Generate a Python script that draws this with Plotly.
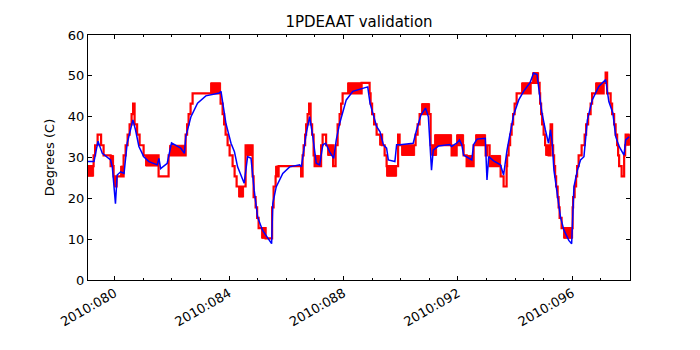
import plotly.graph_objects as go

# ---- data (day-of-year 2010, degrees C) ----
model_t = [79.06, 79.28, 79.42, 79.57, 79.86, 79.92, 80.03, 80.09, 80.21, 80.33,
           80.44, 80.64, 80.73, 80.85, 81.02, 81.20, 81.49, 81.55, 81.61, 81.84,
           81.99, 82.13, 82.31, 82.44, 82.49, 82.67, 82.90, 83.19, 83.66, 83.72,
           83.89, 84.07, 84.19, 84.30, 84.53, 84.65, 84.77, 84.88, 85.00, 85.17,
           85.49, 85.53, 85.65, 85.88, 86.12, 86.47, 86.53, 86.70, 86.82, 86.93,
           87.05, 87.17, 87.28, 87.38, 87.52, 87.66, 87.75, 87.87, 88.10, 88.33,
           88.74, 88.85, 88.93, 89.05, 89.16, 89.28, 89.40, 89.51, 89.57, 89.80,
           89.86, 89.98, 90.44, 90.56, 90.71, 90.87, 90.97, 91.08, 91.14, 91.32,
           91.72, 91.78, 91.96, 92.06, 92.14, 92.20, 92.38, 92.49, 92.55, 92.67,
           92.96, 93.02, 93.08, 93.25, 93.49, 93.60, 93.72, 93.84, 93.95, 94.13,
           94.30, 94.53, 94.65, 94.77, 94.86, 94.94, 95.06, 95.17, 95.24, 95.30,
           95.36, 95.48, 95.59, 95.71, 95.88, 95.98, 96.06, 96.18, 96.29, 96.41,
           96.53, 96.70, 96.93, 97.17, 97.28, 97.42, 97.52, 97.64, 97.81, 97.87,
           97.99]
model_v = [29.0, 29.0, 34.0, 31.0, 29.4, 27.7, 18.7, 25.7, 26.5, 26.1,
           33.5, 39.2, 36.8, 32.7, 30.2, 29.0, 28.2, 29.8, 27.3, 28.6,
           33.6, 33.1, 32.3, 31.0, 35.1, 40.0, 43.3, 45.1, 45.8, 46.2,
           38.4, 33.5, 31.4, 27.7, 23.7, 30.2, 29.8, 22.0, 15.4, 12.2,
           8.9, 18.7, 22.8, 26.1, 27.7, 28.2, 27.7, 35.9, 40.0, 35.1,
           28.6, 28.2, 33.1, 33.5, 31.4, 29.8, 34.3, 38.4, 44.1, 46.2,
           47.0, 47.3, 43.3, 40.0, 37.6, 36.3, 33.1, 32.3, 29.4, 29.0,
           33.1, 33.1, 33.5, 36.8, 40.4, 42.1, 40.0, 26.9, 31.8, 32.8,
           33.2, 32.7, 33.5, 34.3, 33.1, 30.6, 29.8, 29.4, 33.1, 34.5,
           34.7, 24.5, 30.2, 29.2, 28.2, 25.7, 31.8, 36.8, 40.4, 44.1,
           46.2, 48.4, 50.7, 50.3, 45.0, 40.9, 36.8, 33.5, 36.8, 33.5,
           26.9, 20.4, 15.4, 12.2, 9.7, 8.9, 22.8, 26.9, 29.4, 30.2,
           39.2, 44.1, 47.4, 49.1, 43.7, 40.9, 35.1, 32.7, 30.6, 34.3,
           35.1]

telem_t = [79.056, 79.266, 79.318, 79.406, 79.528, 79.615, 79.860, 79.965, 80.017, 80.070,
           80.315, 80.385, 80.455, 80.524, 80.594, 80.647, 80.699, 80.787, 80.874, 81.014,
           81.538, 81.888, 82.483, 82.535, 82.587, 82.657, 82.727, 83.706, 83.776, 83.829,
           83.881, 83.951, 84.021, 84.126, 84.196, 84.266, 84.580, 84.825, 84.860, 84.930,
           84.983, 85.035, 85.280, 85.507, 85.559, 85.629, 85.734, 86.521, 86.573, 86.608,
           86.661, 86.696, 86.748, 86.801, 86.853, 86.906, 86.958, 86.993, 87.220, 87.273,
           87.395, 87.640, 87.727, 87.797, 87.867, 87.920, 87.972, 88.636, 88.916, 88.951,
           89.003, 89.073, 89.161, 89.353, 89.441, 89.510, 89.912, 89.965, 90.524, 90.594,
           90.664, 91.049, 91.783, 91.958, 92.203, 92.308, 92.552, 92.972, 93.024, 93.112,
           93.497, 93.601, 93.706, 93.724, 93.776, 93.829, 93.881, 93.934, 93.986, 94.056,
           94.545, 94.860, 94.878, 94.913, 94.948, 95.000, 95.052, 95.175, 95.245, 95.297,
           95.332, 95.367, 95.402, 95.437, 95.490, 95.524, 95.559, 95.629, 96.014, 96.031,
           96.084, 96.136, 96.171, 96.224, 96.329, 96.434, 96.486, 96.556, 96.643, 96.696,
           97.098, 97.168, 97.220, 97.343, 97.395, 97.465, 97.517, 97.570, 97.605, 97.640,
           97.727, 97.815, 97.850, 97.867, 98.007]
telem_v = [27.9, 30.5, 33.0, 35.6, 33.0, 30.5, 27.9, 25.4, 22.9, 25.4,
           30.5, 33.0, 35.6, 38.1, 40.6, 43.2, 38.1, 35.6, 33.0, 30.5,
           25.4, 30.5, 35.6, 38.1, 40.6, 43.2, 45.7, 43.2, 40.6, 38.1,
           35.6, 33.0, 30.5, 27.9, 25.4, 22.9, 33.0, 25.4, 20.3, 17.8,
           15.2, 12.7, 10.2, 17.8, 22.9, 25.4, 27.9, 25.4, 30.5, 33.0,
           35.6, 38.1, 40.6, 43.2, 38.1, 35.6, 30.5, 27.9, 33.0, 35.6,
           33.0, 27.9, 33.0, 38.1, 40.6, 43.2, 45.7, 48.3, 45.7, 43.2,
           40.6, 38.1, 35.6, 33.0, 30.5, 27.9, 35.6, 33.0, 35.6, 38.1,
           40.6, 33.0, 30.5, 33.0, 30.5, 27.9, 33.0, 30.5, 33.0, 27.9,
           25.4, 22.9, 27.9, 30.5, 33.0, 35.6, 38.1, 40.6, 43.2, 45.7,
           48.3, 45.7, 43.2, 40.6, 38.1, 35.6, 33.0, 30.5, 38.1, 33.0,
           30.5, 27.9, 25.4, 22.9, 20.3, 17.8, 15.2, 12.7, 17.8, 20.3,
           22.9, 25.4, 27.9, 30.5, 33.0, 35.6, 38.1, 40.6, 43.2, 45.7,
           48.3, 50.8, 45.7, 43.2, 40.6, 38.1, 35.6, 33.0, 30.5, 27.9,
           25.4, 30.5, 33.0, 35.6, 35.6]

# intervals where telemetry toggles rapidly between two adjacent levels
toggle_t0 = [79.056, 79.860, 80.210, 81.084, 81.923, 83.357, 84.336, 84.615, 85.140, 85.629,
             86.993, 87.448, 88.147, 89.266, 89.510, 90.035, 90.734, 91.084, 91.189, 91.783,
             91.958, 92.308, 92.622, 93.147, 94.231, 94.615, 95.070, 95.699, 96.818, 97.902]
toggle_t1 = [79.266, 79.965, 80.315, 81.538, 82.483, 83.706, 84.510, 84.825, 85.280, 85.734,
             87.168, 87.622, 88.636, 89.353, 89.860, 90.490, 91.014, 91.259, 91.783, 91.958,
             92.203, 92.552, 92.972, 93.497, 94.545, 94.825, 95.175, 96.014, 97.098, 98.007]
toggle_lo = [25.4, 27.9, 25.4, 27.9, 30.5, 45.7, 20.3, 30.5, 10.2, 25.4,
             27.9, 30.5, 45.7, 33.0, 25.4, 30.5, 40.6, 30.5, 33.0, 30.5,
             33.0, 27.9, 33.0, 27.9, 45.7, 48.3, 30.5, 10.2, 45.7, 33.0]
toggle_hi = [27.9, 30.5, 27.9, 30.5, 33.0, 48.3, 22.9, 33.0, 12.7, 27.9,
             30.5, 33.0, 48.3, 35.6, 27.9, 33.0, 43.2, 33.0, 35.6, 33.0,
             35.6, 30.5, 35.6, 30.5, 48.3, 50.8, 33.0, 12.7, 48.3, 35.6]

tick_days = [80, 84, 88, 92, 96]
tick_text = ["2010:080", "2010:084", "2010:088", "2010:092", "2010:096"]

# ---- build figure ----
bx, by = [], []
for a, b, lo, hi in zip(toggle_t0, toggle_t1, toggle_lo, toggle_hi):
    bx += [a, b, b, a, a, None]
    by += [lo, lo, hi, hi, lo, None]

fig = go.Figure()
fig.add_trace(go.Scatter(x=bx, y=by, mode="lines", fill="toself",
                         fillcolor="#ff0000", line=dict(color="#ff0000", width=1),
                         hoverinfo="skip", showlegend=False))
fig.add_trace(go.Scatter(x=telem_t, y=telem_v, mode="lines", line_shape="hv",
                         line=dict(color="#ff0000", width=2.2), showlegend=False))
fig.add_trace(go.Scatter(x=model_t, y=model_v, mode="lines",
                         line=dict(color="#0000ff", width=1.5), showlegend=False))

font = "DejaVu Sans, Arial, sans-serif"
fig.update_layout(
    width=700, height=350,
    margin=dict(l=88, r=70, t=35, b=70, autoexpand=False),
    paper_bgcolor="white", plot_bgcolor="white",
    font=dict(family=font, size=13, color="black"),
    title=dict(text="1PDEAAT validation", x=0.5, xref="paper", xanchor="center",
               y=1 - 22 / 350, yref="container", yanchor="middle",
               font=dict(size=15, family=font, color="black")),
)
fig.update_xaxes(range=[79.07, 98.02], showgrid=False, zeroline=False,
                 tickvals=tick_days, ticktext=tick_text, tickangle=-30,
                 ticks="inside", ticklen=4, tickcolor="black",
                 showline=True, linecolor="black", linewidth=1, mirror="ticks",
                 tickfont=dict(size=13),
                 minor=dict(dtick=1, tick0=80, ticks="inside", ticklen=2, tickcolor="black"))
fig.update_yaxes(range=[0, 60], showgrid=False, zeroline=False,
                 tickvals=[0, 10, 20, 30, 40, 50, 60],
                 ticks="inside", ticklen=4, tickcolor="black",
                 showline=True, linecolor="black", linewidth=1, mirror="ticks",
                 tickfont=dict(size=13),
                 title=dict(text="Degrees (C)", font=dict(size=13), standoff=10))

fig.write_html("out.html")
